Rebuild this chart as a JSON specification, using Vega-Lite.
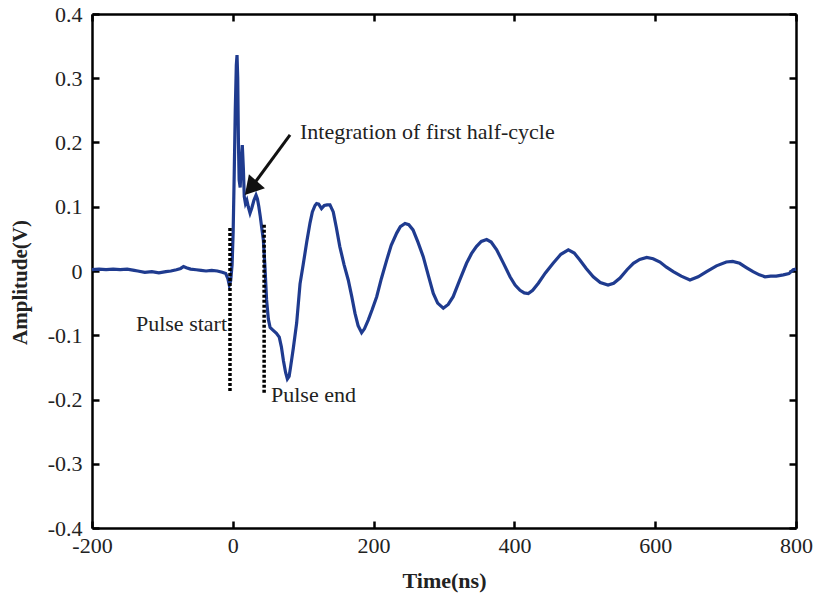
{
  "$schema": "https://vega.github.io/schema/vega-lite/v6.json",
  "width": 704,
  "height": 514,
  "autosize": {"type": "none"},
  "padding": {"left": 92, "top": 14, "right": 23, "bottom": 72},
  "background": "white",
  "config": {"view": {"stroke": null}, "font": "Liberation Serif"},
  "datasets": {
    "signal": [
      {"t": -200, "v": 0.002}, {"t": -190, "v": 0.003}, {"t": -180, "v": 0.002}, {"t": -170, "v": 0.003},
      {"t": -160, "v": 0.002}, {"t": -150, "v": 0.003}, {"t": -140, "v": 0.001}, {"t": -135, "v": 0.0},
      {"t": -125, "v": -0.002}, {"t": -115, "v": -0.001}, {"t": -105, "v": -0.003}, {"t": -95, "v": -0.001},
      {"t": -88, "v": 0.0}, {"t": -80, "v": 0.002}, {"t": -74, "v": 0.004}, {"t": -70, "v": 0.007},
      {"t": -66, "v": 0.005}, {"t": -60, "v": 0.003}, {"t": -52, "v": 0.002}, {"t": -45, "v": 0.001},
      {"t": -38, "v": 0.0}, {"t": -30, "v": 0.001}, {"t": -22, "v": 0.0}, {"t": -15, "v": -0.002},
      {"t": -10, "v": -0.004}, {"t": -7, "v": -0.012}, {"t": -5, "v": -0.022}, {"t": -3, "v": -0.015},
      {"t": -1, "v": 0.01}, {"t": 0.5, "v": 0.06}, {"t": 2, "v": 0.15}, {"t": 3.5, "v": 0.25},
      {"t": 5, "v": 0.32}, {"t": 6, "v": 0.336}, {"t": 7, "v": 0.3}, {"t": 8, "v": 0.2},
      {"t": 9, "v": 0.142}, {"t": 10.5, "v": 0.13}, {"t": 12, "v": 0.17}, {"t": 13.5, "v": 0.196},
      {"t": 15, "v": 0.16}, {"t": 16.3, "v": 0.116}, {"t": 18, "v": 0.105}, {"t": 20, "v": 0.11},
      {"t": 22, "v": 0.1}, {"t": 24.5, "v": 0.09}, {"t": 27, "v": 0.098}, {"t": 30, "v": 0.11},
      {"t": 33, "v": 0.118}, {"t": 35, "v": 0.112}, {"t": 37, "v": 0.1}, {"t": 39, "v": 0.085},
      {"t": 41, "v": 0.068}, {"t": 43.4, "v": 0.048}, {"t": 45.5, "v": 0.01}, {"t": 48, "v": -0.045},
      {"t": 50.5, "v": -0.075}, {"t": 53, "v": -0.088}, {"t": 57, "v": -0.092}, {"t": 62, "v": -0.097},
      {"t": 66, "v": -0.103}, {"t": 69, "v": -0.118}, {"t": 72, "v": -0.14}, {"t": 75, "v": -0.158},
      {"t": 77.5, "v": -0.168}, {"t": 80, "v": -0.164}, {"t": 82, "v": -0.15}, {"t": 86, "v": -0.12},
      {"t": 90.7, "v": -0.081}, {"t": 95.5, "v": -0.02}, {"t": 100, "v": 0.01}, {"t": 105, "v": 0.045},
      {"t": 109.7, "v": 0.075}, {"t": 113, "v": 0.092}, {"t": 116.8, "v": 0.102}, {"t": 119, "v": 0.105},
      {"t": 122, "v": 0.104}, {"t": 126, "v": 0.097}, {"t": 130, "v": 0.102}, {"t": 134, "v": 0.103},
      {"t": 138, "v": 0.103}, {"t": 142.7, "v": 0.092}, {"t": 147, "v": 0.068}, {"t": 152, "v": 0.038},
      {"t": 158, "v": 0.01}, {"t": 164, "v": -0.014}, {"t": 169, "v": -0.04}, {"t": 173.6, "v": -0.066},
      {"t": 178, "v": -0.085}, {"t": 183, "v": -0.096}, {"t": 187, "v": -0.09}, {"t": 192.5, "v": -0.076},
      {"t": 198, "v": -0.06}, {"t": 204.4, "v": -0.04}, {"t": 211, "v": -0.012}, {"t": 218.6, "v": 0.017},
      {"t": 225, "v": 0.04}, {"t": 232.8, "v": 0.059}, {"t": 238, "v": 0.069}, {"t": 244.6, "v": 0.074},
      {"t": 250, "v": 0.072}, {"t": 256, "v": 0.064}, {"t": 263, "v": 0.045}, {"t": 270.6, "v": 0.022},
      {"t": 278, "v": -0.008}, {"t": 284.8, "v": -0.035}, {"t": 291, "v": -0.05}, {"t": 299, "v": -0.058},
      {"t": 306, "v": -0.052}, {"t": 313, "v": -0.04}, {"t": 322, "v": -0.015}, {"t": 332, "v": 0.012},
      {"t": 339, "v": 0.027}, {"t": 346, "v": 0.038}, {"t": 353, "v": 0.046}, {"t": 360.6, "v": 0.049},
      {"t": 367, "v": 0.045}, {"t": 374.8, "v": 0.033}, {"t": 384, "v": 0.013}, {"t": 393.8, "v": -0.009},
      {"t": 401, "v": -0.022}, {"t": 408, "v": -0.03}, {"t": 414, "v": -0.034}, {"t": 419.7, "v": -0.035},
      {"t": 426, "v": -0.03}, {"t": 434, "v": -0.019}, {"t": 444, "v": -0.003}, {"t": 455, "v": 0.012},
      {"t": 466, "v": 0.026}, {"t": 476.6, "v": 0.033}, {"t": 485, "v": 0.028}, {"t": 493, "v": 0.017},
      {"t": 502, "v": 0.004}, {"t": 512, "v": -0.009}, {"t": 522, "v": -0.018}, {"t": 533, "v": -0.022},
      {"t": 541, "v": -0.019}, {"t": 550, "v": -0.011}, {"t": 560, "v": 0.002}, {"t": 569, "v": 0.012},
      {"t": 578, "v": 0.018}, {"t": 588, "v": 0.021}, {"t": 597, "v": 0.019}, {"t": 606.8, "v": 0.014},
      {"t": 616, "v": 0.006}, {"t": 625.7, "v": -0.001}, {"t": 637, "v": -0.008}, {"t": 649.4, "v": -0.014},
      {"t": 661, "v": -0.009}, {"t": 673, "v": -0.001}, {"t": 687, "v": 0.008}, {"t": 701, "v": 0.014},
      {"t": 710, "v": 0.015}, {"t": 720, "v": 0.012}, {"t": 730, "v": 0.005}, {"t": 739, "v": -0.001},
      {"t": 748, "v": -0.006}, {"t": 756, "v": -0.009}, {"t": 764, "v": -0.008}, {"t": 772, "v": -0.008},
      {"t": 782, "v": -0.006}, {"t": 790, "v": -0.004}, {"t": 796, "v": 0.002}, {"t": 800, "v": 0.003}
    ],
    "markers": [
      {"t": -4, "top": 0.067, "bottom": -0.19},
      {"t": 44.5, "top": 0.072, "bottom": -0.19}
    ],
    "arrow": [{"t1": 81.3, "v1": 0.2117, "t2": 25.7, "v2": 0.129}],
    "head": [{"t": 25.7, "v": 0.129}],
    "labelsRight": [{"t": -8.2, "v": -0.0934, "label": "Pulse start"}],
    "labelsLeft": [
      {"t": 54.3, "v": -0.204, "label": "Pulse end"},
      {"t": 95.5, "v": 0.205, "label": "Integration of first half-cycle"}
    ]
  },
  "layer": [
    {
      "layer": [
        {
          "data": {"name": "signal"},
          "mark": {"type": "line", "color": "#1f3b8f", "strokeWidth": 3.2},
          "encoding": {
            "x": {
              "field": "t", "type": "quantitative",
              "scale": {"domain": [-200, 800], "nice": false},
              "axis": {
                "orient": "bottom", "values": [-200, 0, 200, 400, 600, 800],
                "labelExpr": "replace(format(datum.value, 'd'), '\u2212', '-')",
                "grid": false, "tickSize": -7, "tickWidth": 2.5, "tickColor": "black",
                "domainColor": "black", "domainWidth": 2.5,
                "labelFont": "Liberation Serif", "labelFontSize": 22, "labelColor": "#222",
                "labelPadding": 14, "labelFlush": false,
                "title": "Time(ns)", "titleFont": "Liberation Serif", "titleFontSize": 22,
                "titleFontWeight": "bold", "titleColor": "#222",
                "titleX": 352, "titleY": 52, "titleAlign": "center", "titleBaseline": "middle"
              }
            },
            "y": {
              "field": "v", "type": "quantitative",
              "scale": {"domain": [-0.4, 0.4], "nice": false},
              "axis": {
                "orient": "left", "values": [-0.4, -0.3, -0.2, -0.1, 0, 0.1, 0.2, 0.3, 0.4],
                "labelExpr": "datum.value == 0 ? '0' : replace(format(datum.value, '.1f'), '\u2212', '-')",
                "grid": false, "tickSize": -7, "tickWidth": 2.5, "tickColor": "black",
                "domainColor": "black", "domainWidth": 2.5,
                "labelFont": "Liberation Serif", "labelFontSize": 22, "labelColor": "#222",
                "labelPadding": 17, "labelFlush": false,
                "title": "Amplitude(V)", "titleFont": "Liberation Serif", "titleFontSize": 21,
                "titleFontWeight": "bold", "titleColor": "#222",
                "titleX": -72, "titleY": 268, "titleAngle": -90,
                "titleAlign": "center", "titleBaseline": "middle"
              }
            }
          }
        },
        {
          "data": {"name": "markers"},
          "mark": {"type": "rule", "color": "black", "strokeWidth": 3.5, "strokeDash": [3, 2]},
          "encoding": {
            "x": {"field": "t", "type": "quantitative"},
            "y": {"field": "top", "type": "quantitative"},
            "y2": {"field": "bottom"}
          }
        },
        {
          "data": {"name": "arrow"},
          "mark": {"type": "rule", "color": "#111", "strokeWidth": 3},
          "encoding": {
            "x": {"field": "t1", "type": "quantitative"},
            "y": {"field": "v1", "type": "quantitative"},
            "x2": {"field": "t2"},
            "y2": {"field": "v2"}
          }
        },
        {
          "data": {"name": "head"},
          "mark": {"type": "point", "shape": "triangle-up", "filled": true, "color": "#111", "opacity": 1, "size": 450, "angle": 221},
          "encoding": {
            "x": {"field": "t", "type": "quantitative"},
            "y": {"field": "v", "type": "quantitative"}
          }
        },
        {
          "data": {"name": "labelsRight"},
          "mark": {"type": "text", "font": "Liberation Serif", "fontSize": 22, "color": "#222", "align": "right", "baseline": "alphabetic"},
          "encoding": {
            "x": {"field": "t", "type": "quantitative"},
            "y": {"field": "v", "type": "quantitative"},
            "text": {"field": "label"}
          }
        },
        {
          "data": {"name": "labelsLeft"},
          "mark": {"type": "text", "font": "Liberation Serif", "fontSize": 22, "color": "#222", "align": "left", "baseline": "alphabetic"},
          "encoding": {
            "x": {"field": "t", "type": "quantitative"},
            "y": {"field": "v", "type": "quantitative"},
            "text": {"field": "label"}
          }
        }
      ]
    },
    {
      "data": {"name": "head"},
      "mark": {"type": "point", "opacity": 0},
      "encoding": {
        "x": {
          "field": "t", "type": "quantitative",
          "scale": {"domain": [-200, 800], "nice": false},
          "axis": {
            "orient": "top", "values": [-200, 0, 200, 400, 600, 800], "labels": false, "title": null,
            "grid": false, "tickSize": -7, "tickWidth": 2.5, "tickColor": "black",
            "domainColor": "black", "domainWidth": 2.5
          }
        },
        "y": {
          "field": "v", "type": "quantitative",
          "scale": {"domain": [-0.4, 0.4], "nice": false},
          "axis": {
            "orient": "right", "values": [-0.4, -0.3, -0.2, -0.1, 0, 0.1, 0.2, 0.3, 0.4], "labels": false, "title": null,
            "grid": false, "tickSize": -7, "tickWidth": 2.5, "tickColor": "black",
            "domainColor": "black", "domainWidth": 2.5
          }
        }
      }
    }
  ],
  "resolve": {"scale": {"x": "independent", "y": "independent"}}
}
